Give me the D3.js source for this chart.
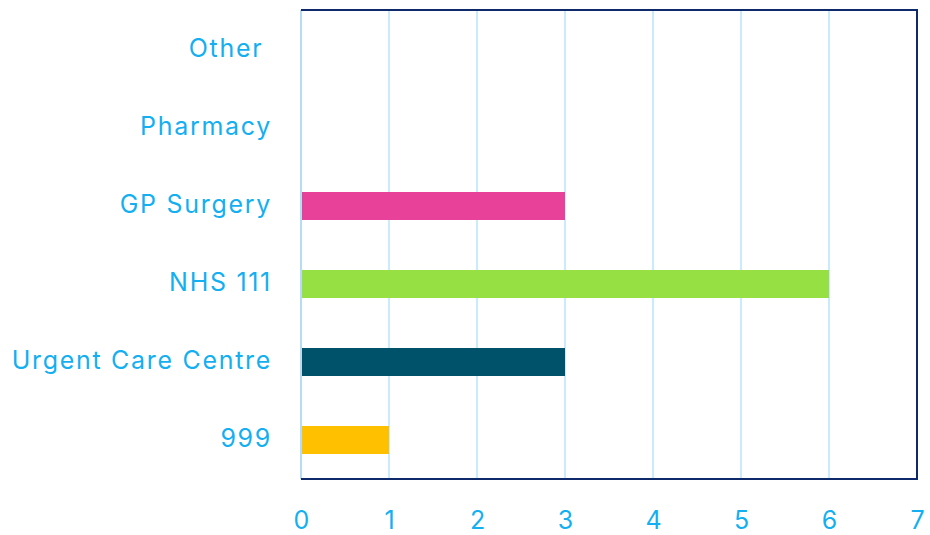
<!DOCTYPE html>
<html><head><meta charset="utf-8">
<script src="https://cdn.jsdelivr.net/npm/d3@7"></script>
<style>
html,body{margin:0;padding:0;background:#fff;}
text{font-family:"Inter","Open Sans",sans-serif;}
</style></head>
<body><svg id="c" width="930" height="535"></svg>
<script>
const categories = ["Other ", "Pharmacy", "GP Surgery", "NHS 111", "Urgent Care Centre", "999"];
const values = [0, 0, 3, 6, 3, 1];
const colors = ["#e8419a", "#e8419a", "#e8419a", "#96e044", "#00526b", "#ffc000"];
const xTicks = [0, 1, 2, 3, 4, 5, 6, 7];

const svg = d3.select("#c");
const L = 301, R = 917, T = 10, B = 479;
const x = d3.scaleLinear().domain([0, 7]).range([L, R]);
const y = d3.scaleBand().domain(categories).range([T + 1, B]).paddingInner(0.641).paddingOuter(0.3205);
const textColor = "#14aff0";

// gridlines
svg.append("g").selectAll("line").data(xTicks).join("line")
  .attr("x1", d => x(d)).attr("x2", d => x(d))
  .attr("y1", T).attr("y2", B)
  .attr("stroke", d => d === 0 ? "#b5dcf2" : "#c9ebfb").attr("stroke-width", 2);

// bars
svg.append("g").selectAll("rect").data(categories).join("rect")
  .attr("x", x(0) + 1)
  .attr("y", d => y(d))
  .attr("width", (d, i) => Math.max(0, x(values[i]) - x(0) - 1))
  .attr("height", y.bandwidth())
  .attr("fill", (d, i) => colors[i]);

// border top/right/bottom
svg.append("path")
  .attr("d", `M${L},${T}H${R}V${B}H${L}`)
  .attr("fill", "none").attr("stroke", "#0e2a6b").attr("stroke-width", 2);

// x axis labels
const xAxis = d3.axisBottom(x).tickValues(xTicks).tickSize(0).tickPadding(0).tickFormat(d3.format("d"));
const gx = svg.append("g").attr("transform", `translate(0,${B})`).call(xAxis);
gx.select(".domain").remove();
gx.selectAll("text").attr("fill", textColor).attr("font-size", 25).attr("dy", null).attr("y", 50)
  .style("font-family", '"Inter","Open Sans",sans-serif');

// y axis labels
const yAxis = d3.axisLeft(y).tickSize(0).tickPadding(29);
const gy = svg.append("g").attr("transform", `translate(${L},0)`).call(yAxis);
gy.select(".domain").remove();
gy.selectAll("text").attr("fill", textColor).attr("font-size", 25)
  .style("white-space", "pre").style("letter-spacing", "1.7px")
  .style("font-family", '"Inter","Open Sans",sans-serif')
  .attr("dy", "0.28em");
</script></body></html>
